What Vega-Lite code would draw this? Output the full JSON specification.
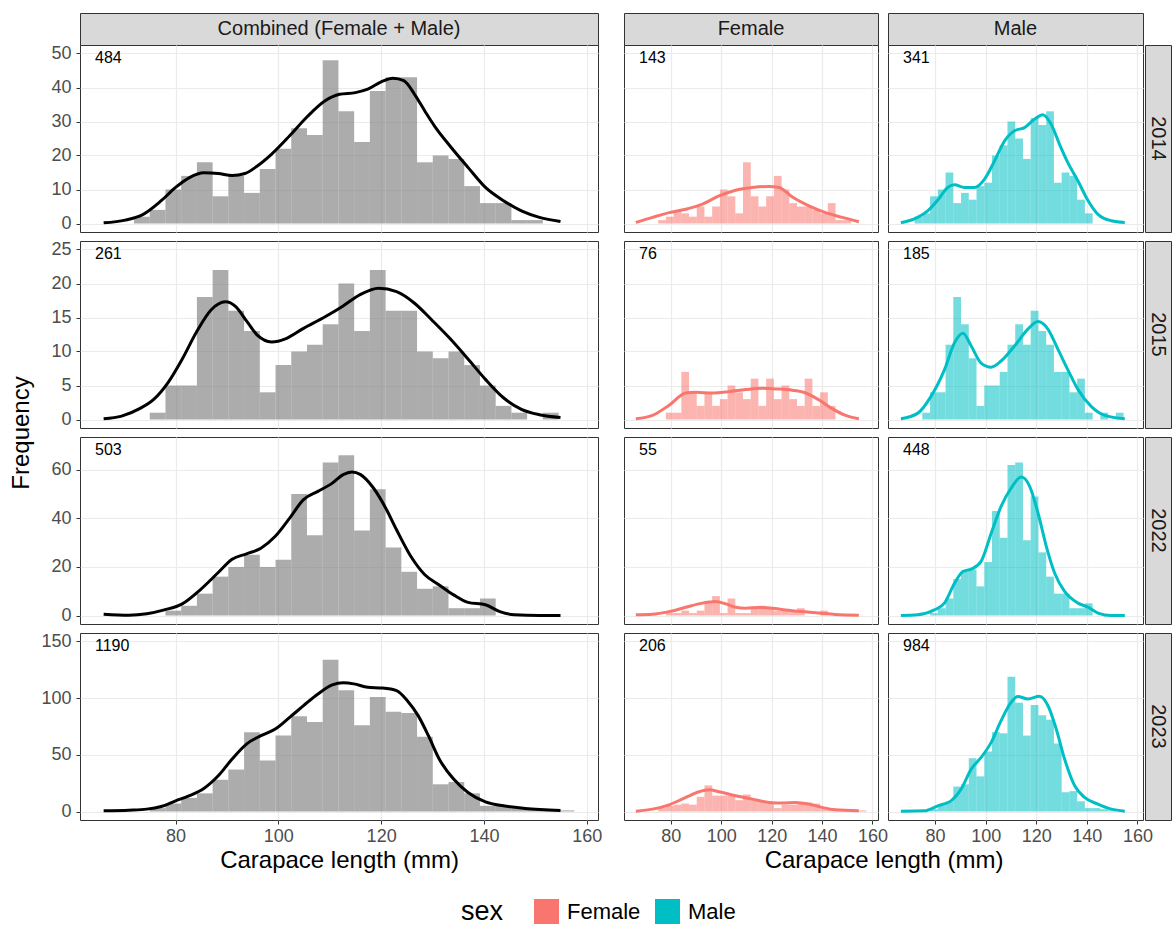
{
"$schema":"https://vega.github.io/schema/vega-lite/v6.json",
"padding":{"left":8,"top":12,"right":0,"bottom":0},
"background":"white",
"config":{
 "font":"Liberation Sans",
 "view":{"stroke":"#333333","strokeWidth":1},
 "axis":{"grid":true,"domain":false,"gridColor":"#ebebeb","gridWidth":1.2,"tickColor":"#333333","tickSize":4,"tickWidth":1,"labelColor":"#4d4d4d","labelFontSize":18,"labelPadding":3,"labelFlush":false,"labelOverlap":false,"titleFontSize":24,"titleFontWeight":"normal","titleColor":"#000000","titlePadding":3},
 "axisY":{"labelPadding":5},
 "legend":{"orient":"none","legendX":381,"legendY":886,"direction":"horizontal","titleOrient":"left","titleFontSize":27,"titleFontWeight":"normal","titleColor":"#000000","titlePadding":30,"labelFontSize":22,"labelColor":"#000000","symbolType":"square","symbolSize":625,"symbolOpacity":1,"symbolStrokeWidth":0,"columnPadding":14,"labelOffset":8}
},
"datasets":{
"counts":[{"year":2014,"sex":"Combined","n":484},{"year":2014,"sex":"Female","n":143},{"year":2014,"sex":"Male","n":341},{"year":2015,"sex":"Combined","n":261},{"year":2015,"sex":"Female","n":76},{"year":2015,"sex":"Male","n":185},{"year":2022,"sex":"Combined","n":503},{"year":2022,"sex":"Female","n":55},{"year":2022,"sex":"Male","n":448},{"year":2023,"sex":"Combined","n":1190},{"year":2023,"sex":"Female","n":206},{"year":2023,"sex":"Male","n":984}],
"bars":[
{"year":2014,"sex":"Combined","lo":71.91,"hi":74.97,"count":2},{"year":2014,"sex":"Male","lo":71.91,"hi":74.97,"count":2},
{"year":2014,"sex":"Combined","lo":74.97,"hi":78.03,"count":4},{"year":2014,"sex":"Female","lo":74.97,"hi":78.03,"count":1},{"year":2014,"sex":"Male","lo":74.97,"hi":78.03,"count":3},
{"year":2014,"sex":"Combined","lo":78.03,"hi":81.09,"count":10},{"year":2014,"sex":"Female","lo":78.03,"hi":81.09,"count":2},{"year":2014,"sex":"Male","lo":78.03,"hi":81.09,"count":8},
{"year":2014,"sex":"Combined","lo":81.09,"hi":84.15,"count":14},{"year":2014,"sex":"Female","lo":81.09,"hi":84.15,"count":4},{"year":2014,"sex":"Male","lo":81.09,"hi":84.15,"count":10},
{"year":2014,"sex":"Combined","lo":84.15,"hi":87.21,"count":18},{"year":2014,"sex":"Female","lo":84.15,"hi":87.21,"count":3},{"year":2014,"sex":"Male","lo":84.15,"hi":87.21,"count":15},
{"year":2014,"sex":"Combined","lo":87.21,"hi":90.27,"count":8},{"year":2014,"sex":"Female","lo":87.21,"hi":90.27,"count":2},{"year":2014,"sex":"Male","lo":87.21,"hi":90.27,"count":6},
{"year":2014,"sex":"Combined","lo":90.27,"hi":93.33,"count":14},{"year":2014,"sex":"Female","lo":90.27,"hi":93.33,"count":5},{"year":2014,"sex":"Male","lo":90.27,"hi":93.33,"count":9},
{"year":2014,"sex":"Combined","lo":93.33,"hi":96.39,"count":9},{"year":2014,"sex":"Female","lo":93.33,"hi":96.39,"count":2},{"year":2014,"sex":"Male","lo":93.33,"hi":96.39,"count":7},
{"year":2014,"sex":"Combined","lo":96.39,"hi":99.45,"count":16},{"year":2014,"sex":"Female","lo":96.39,"hi":99.45,"count":5},{"year":2014,"sex":"Male","lo":96.39,"hi":99.45,"count":11},
{"year":2014,"sex":"Combined","lo":99.45,"hi":102.51,"count":22},{"year":2014,"sex":"Female","lo":99.45,"hi":102.51,"count":10},{"year":2014,"sex":"Male","lo":99.45,"hi":102.51,"count":12},
{"year":2014,"sex":"Combined","lo":102.51,"hi":105.57,"count":28},{"year":2014,"sex":"Female","lo":102.51,"hi":105.57,"count":8},{"year":2014,"sex":"Male","lo":102.51,"hi":105.57,"count":20},
{"year":2014,"sex":"Combined","lo":105.57,"hi":108.63,"count":26},{"year":2014,"sex":"Female","lo":105.57,"hi":108.63,"count":3},{"year":2014,"sex":"Male","lo":105.57,"hi":108.63,"count":23},
{"year":2014,"sex":"Combined","lo":108.63,"hi":111.69,"count":48},{"year":2014,"sex":"Female","lo":108.63,"hi":111.69,"count":18},{"year":2014,"sex":"Male","lo":108.63,"hi":111.69,"count":30},
{"year":2014,"sex":"Combined","lo":111.69,"hi":114.75,"count":33},{"year":2014,"sex":"Female","lo":111.69,"hi":114.75,"count":8},{"year":2014,"sex":"Male","lo":111.69,"hi":114.75,"count":25},
{"year":2014,"sex":"Combined","lo":114.75,"hi":117.81,"count":24},{"year":2014,"sex":"Female","lo":114.75,"hi":117.81,"count":5},{"year":2014,"sex":"Male","lo":114.75,"hi":117.81,"count":19},
{"year":2014,"sex":"Combined","lo":117.81,"hi":120.87,"count":39},{"year":2014,"sex":"Female","lo":117.81,"hi":120.87,"count":8},{"year":2014,"sex":"Male","lo":117.81,"hi":120.87,"count":31},
{"year":2014,"sex":"Combined","lo":120.87,"hi":123.93,"count":43},{"year":2014,"sex":"Female","lo":120.87,"hi":123.93,"count":14},{"year":2014,"sex":"Male","lo":120.87,"hi":123.93,"count":29},
{"year":2014,"sex":"Combined","lo":123.93,"hi":126.99,"count":43},{"year":2014,"sex":"Female","lo":123.93,"hi":126.99,"count":10},{"year":2014,"sex":"Male","lo":123.93,"hi":126.99,"count":33},
{"year":2014,"sex":"Combined","lo":126.99,"hi":130.05,"count":18},{"year":2014,"sex":"Female","lo":126.99,"hi":130.05,"count":6},{"year":2014,"sex":"Male","lo":126.99,"hi":130.05,"count":12},
{"year":2014,"sex":"Combined","lo":130.05,"hi":133.11,"count":20},{"year":2014,"sex":"Female","lo":130.05,"hi":133.11,"count":5},{"year":2014,"sex":"Male","lo":130.05,"hi":133.11,"count":15},
{"year":2014,"sex":"Combined","lo":133.11,"hi":136.17,"count":19},{"year":2014,"sex":"Female","lo":133.11,"hi":136.17,"count":5},{"year":2014,"sex":"Male","lo":133.11,"hi":136.17,"count":14},
{"year":2014,"sex":"Combined","lo":136.17,"hi":139.23,"count":11},{"year":2014,"sex":"Female","lo":136.17,"hi":139.23,"count":4},{"year":2014,"sex":"Male","lo":136.17,"hi":139.23,"count":7},
{"year":2014,"sex":"Combined","lo":139.23,"hi":142.29,"count":6},{"year":2014,"sex":"Female","lo":139.23,"hi":142.29,"count":3},{"year":2014,"sex":"Male","lo":139.23,"hi":142.29,"count":3},
{"year":2014,"sex":"Combined","lo":142.29,"hi":145.35,"count":6},{"year":2014,"sex":"Female","lo":142.29,"hi":145.35,"count":6},
{"year":2014,"sex":"Combined","lo":145.35,"hi":148.41,"count":1},{"year":2014,"sex":"Female","lo":145.35,"hi":148.41,"count":1},
{"year":2014,"sex":"Combined","lo":148.41,"hi":151.47,"count":1},{"year":2014,"sex":"Female","lo":148.41,"hi":151.47,"count":1},

{"year":2015,"sex":"Combined","lo":74.97,"hi":78.03,"count":1},{"year":2015,"sex":"Male","lo":74.97,"hi":78.03,"count":1},
{"year":2015,"sex":"Combined","lo":78.03,"hi":81.09,"count":5},{"year":2015,"sex":"Female","lo":78.03,"hi":81.09,"count":1},{"year":2015,"sex":"Male","lo":78.03,"hi":81.09,"count":4},
{"year":2015,"sex":"Combined","lo":81.09,"hi":84.15,"count":5},{"year":2015,"sex":"Female","lo":81.09,"hi":84.15,"count":1},{"year":2015,"sex":"Male","lo":81.09,"hi":84.15,"count":4},
{"year":2015,"sex":"Combined","lo":84.15,"hi":87.21,"count":18},{"year":2015,"sex":"Female","lo":84.15,"hi":87.21,"count":7},{"year":2015,"sex":"Male","lo":84.15,"hi":87.21,"count":11},
{"year":2015,"sex":"Combined","lo":87.21,"hi":90.27,"count":22},{"year":2015,"sex":"Female","lo":87.21,"hi":90.27,"count":4},{"year":2015,"sex":"Male","lo":87.21,"hi":90.27,"count":18},
{"year":2015,"sex":"Combined","lo":90.27,"hi":93.33,"count":16},{"year":2015,"sex":"Female","lo":90.27,"hi":93.33,"count":2},{"year":2015,"sex":"Male","lo":90.27,"hi":93.33,"count":14},
{"year":2015,"sex":"Combined","lo":93.33,"hi":96.39,"count":13},{"year":2015,"sex":"Female","lo":93.33,"hi":96.39,"count":4},{"year":2015,"sex":"Male","lo":93.33,"hi":96.39,"count":9},
{"year":2015,"sex":"Combined","lo":96.39,"hi":99.45,"count":4},{"year":2015,"sex":"Female","lo":96.39,"hi":99.45,"count":2},{"year":2015,"sex":"Male","lo":96.39,"hi":99.45,"count":2},
{"year":2015,"sex":"Combined","lo":99.45,"hi":102.51,"count":8},{"year":2015,"sex":"Female","lo":99.45,"hi":102.51,"count":3},{"year":2015,"sex":"Male","lo":99.45,"hi":102.51,"count":5},
{"year":2015,"sex":"Combined","lo":102.51,"hi":105.57,"count":10},{"year":2015,"sex":"Female","lo":102.51,"hi":105.57,"count":5},{"year":2015,"sex":"Male","lo":102.51,"hi":105.57,"count":5},
{"year":2015,"sex":"Combined","lo":105.57,"hi":108.63,"count":11},{"year":2015,"sex":"Female","lo":105.57,"hi":108.63,"count":4},{"year":2015,"sex":"Male","lo":105.57,"hi":108.63,"count":7},
{"year":2015,"sex":"Combined","lo":108.63,"hi":111.69,"count":14},{"year":2015,"sex":"Female","lo":108.63,"hi":111.69,"count":3},{"year":2015,"sex":"Male","lo":108.63,"hi":111.69,"count":11},
{"year":2015,"sex":"Combined","lo":111.69,"hi":114.75,"count":20},{"year":2015,"sex":"Female","lo":111.69,"hi":114.75,"count":6},{"year":2015,"sex":"Male","lo":111.69,"hi":114.75,"count":14},
{"year":2015,"sex":"Combined","lo":114.75,"hi":117.81,"count":13},{"year":2015,"sex":"Female","lo":114.75,"hi":117.81,"count":2},{"year":2015,"sex":"Male","lo":114.75,"hi":117.81,"count":11},
{"year":2015,"sex":"Combined","lo":117.81,"hi":120.87,"count":22},{"year":2015,"sex":"Female","lo":117.81,"hi":120.87,"count":6},{"year":2015,"sex":"Male","lo":117.81,"hi":120.87,"count":16},
{"year":2015,"sex":"Combined","lo":120.87,"hi":123.93,"count":16},{"year":2015,"sex":"Female","lo":120.87,"hi":123.93,"count":3},{"year":2015,"sex":"Male","lo":120.87,"hi":123.93,"count":13},
{"year":2015,"sex":"Combined","lo":123.93,"hi":126.99,"count":16},{"year":2015,"sex":"Female","lo":123.93,"hi":126.99,"count":5},{"year":2015,"sex":"Male","lo":123.93,"hi":126.99,"count":11},
{"year":2015,"sex":"Combined","lo":126.99,"hi":130.05,"count":10},{"year":2015,"sex":"Female","lo":126.99,"hi":130.05,"count":3},{"year":2015,"sex":"Male","lo":126.99,"hi":130.05,"count":7},
{"year":2015,"sex":"Combined","lo":130.05,"hi":133.11,"count":9},{"year":2015,"sex":"Female","lo":130.05,"hi":133.11,"count":2},{"year":2015,"sex":"Male","lo":130.05,"hi":133.11,"count":7},
{"year":2015,"sex":"Combined","lo":133.11,"hi":136.17,"count":10},{"year":2015,"sex":"Female","lo":133.11,"hi":136.17,"count":6},{"year":2015,"sex":"Male","lo":133.11,"hi":136.17,"count":4},
{"year":2015,"sex":"Combined","lo":136.17,"hi":139.23,"count":8},{"year":2015,"sex":"Female","lo":136.17,"hi":139.23,"count":2},{"year":2015,"sex":"Male","lo":136.17,"hi":139.23,"count":6},
{"year":2015,"sex":"Combined","lo":139.23,"hi":142.29,"count":5},{"year":2015,"sex":"Female","lo":139.23,"hi":142.29,"count":4},{"year":2015,"sex":"Male","lo":139.23,"hi":142.29,"count":1},
{"year":2015,"sex":"Combined","lo":142.29,"hi":145.35,"count":2},{"year":2015,"sex":"Female","lo":142.29,"hi":145.35,"count":2},
{"year":2015,"sex":"Combined","lo":145.35,"hi":148.41,"count":1},{"year":2015,"sex":"Male","lo":145.35,"hi":148.41,"count":1},
{"year":2015,"sex":"Combined","lo":151.47,"hi":154.53,"count":1},{"year":2015,"sex":"Male","lo":151.47,"hi":154.53,"count":1},

{"year":2022,"sex":"Combined","lo":78.03,"hi":81.09,"count":2},{"year":2022,"sex":"Female","lo":78.03,"hi":81.09,"count":1},{"year":2022,"sex":"Male","lo":78.03,"hi":81.09,"count":1},
{"year":2022,"sex":"Combined","lo":81.09,"hi":84.15,"count":4},{"year":2022,"sex":"Female","lo":81.09,"hi":84.15,"count":1},{"year":2022,"sex":"Male","lo":81.09,"hi":84.15,"count":3},
{"year":2022,"sex":"Combined","lo":84.15,"hi":87.21,"count":9},{"year":2022,"sex":"Female","lo":84.15,"hi":87.21,"count":2},{"year":2022,"sex":"Male","lo":84.15,"hi":87.21,"count":7},
{"year":2022,"sex":"Combined","lo":87.21,"hi":90.27,"count":16},{"year":2022,"sex":"Female","lo":87.21,"hi":90.27,"count":1},{"year":2022,"sex":"Male","lo":87.21,"hi":90.27,"count":15},
{"year":2022,"sex":"Combined","lo":90.27,"hi":93.33,"count":20},{"year":2022,"sex":"Female","lo":90.27,"hi":93.33,"count":2},{"year":2022,"sex":"Male","lo":90.27,"hi":93.33,"count":18},
{"year":2022,"sex":"Combined","lo":93.33,"hi":96.39,"count":25},{"year":2022,"sex":"Female","lo":93.33,"hi":96.39,"count":6},{"year":2022,"sex":"Male","lo":93.33,"hi":96.39,"count":19},
{"year":2022,"sex":"Combined","lo":96.39,"hi":99.45,"count":20},{"year":2022,"sex":"Female","lo":96.39,"hi":99.45,"count":8},{"year":2022,"sex":"Male","lo":96.39,"hi":99.45,"count":12},
{"year":2022,"sex":"Combined","lo":99.45,"hi":102.51,"count":23},{"year":2022,"sex":"Female","lo":99.45,"hi":102.51,"count":1},{"year":2022,"sex":"Male","lo":99.45,"hi":102.51,"count":22},
{"year":2022,"sex":"Combined","lo":102.51,"hi":105.57,"count":50},{"year":2022,"sex":"Female","lo":102.51,"hi":105.57,"count":7},{"year":2022,"sex":"Male","lo":102.51,"hi":105.57,"count":43},
{"year":2022,"sex":"Combined","lo":105.57,"hi":108.63,"count":33},{"year":2022,"sex":"Female","lo":105.57,"hi":108.63,"count":1},{"year":2022,"sex":"Male","lo":105.57,"hi":108.63,"count":32},
{"year":2022,"sex":"Combined","lo":108.63,"hi":111.69,"count":63},{"year":2022,"sex":"Female","lo":108.63,"hi":111.69,"count":1},{"year":2022,"sex":"Male","lo":108.63,"hi":111.69,"count":62},
{"year":2022,"sex":"Combined","lo":111.69,"hi":114.75,"count":66},{"year":2022,"sex":"Female","lo":111.69,"hi":114.75,"count":3},{"year":2022,"sex":"Male","lo":111.69,"hi":114.75,"count":63},
{"year":2022,"sex":"Combined","lo":114.75,"hi":117.81,"count":35},{"year":2022,"sex":"Female","lo":114.75,"hi":117.81,"count":4},{"year":2022,"sex":"Male","lo":114.75,"hi":117.81,"count":31},
{"year":2022,"sex":"Combined","lo":117.81,"hi":120.87,"count":52},{"year":2022,"sex":"Female","lo":117.81,"hi":120.87,"count":3},{"year":2022,"sex":"Male","lo":117.81,"hi":120.87,"count":49},
{"year":2022,"sex":"Combined","lo":120.87,"hi":123.93,"count":28},{"year":2022,"sex":"Female","lo":120.87,"hi":123.93,"count":2},{"year":2022,"sex":"Male","lo":120.87,"hi":123.93,"count":26},
{"year":2022,"sex":"Combined","lo":123.93,"hi":126.99,"count":18},{"year":2022,"sex":"Female","lo":123.93,"hi":126.99,"count":2},{"year":2022,"sex":"Male","lo":123.93,"hi":126.99,"count":16},
{"year":2022,"sex":"Combined","lo":126.99,"hi":130.05,"count":11},{"year":2022,"sex":"Female","lo":126.99,"hi":130.05,"count":2},{"year":2022,"sex":"Male","lo":126.99,"hi":130.05,"count":9},
{"year":2022,"sex":"Combined","lo":130.05,"hi":133.11,"count":12},{"year":2022,"sex":"Female","lo":130.05,"hi":133.11,"count":3},{"year":2022,"sex":"Male","lo":130.05,"hi":133.11,"count":9},
{"year":2022,"sex":"Combined","lo":133.11,"hi":136.17,"count":3},{"year":2022,"sex":"Male","lo":133.11,"hi":136.17,"count":3},
{"year":2022,"sex":"Combined","lo":136.17,"hi":139.23,"count":3},{"year":2022,"sex":"Male","lo":136.17,"hi":139.23,"count":3},
{"year":2022,"sex":"Combined","lo":139.23,"hi":142.29,"count":7},{"year":2022,"sex":"Female","lo":139.23,"hi":142.29,"count":2},{"year":2022,"sex":"Male","lo":139.23,"hi":142.29,"count":5},

{"year":2023,"sex":"Combined","lo":74.97,"hi":78.03,"count":3},{"year":2023,"sex":"Female","lo":74.97,"hi":78.03,"count":3},
{"year":2023,"sex":"Combined","lo":78.03,"hi":81.09,"count":7},{"year":2023,"sex":"Female","lo":78.03,"hi":81.09,"count":5},{"year":2023,"sex":"Male","lo":78.03,"hi":81.09,"count":2},
{"year":2023,"sex":"Combined","lo":81.09,"hi":84.15,"count":12},{"year":2023,"sex":"Female","lo":81.09,"hi":84.15,"count":6},{"year":2023,"sex":"Male","lo":81.09,"hi":84.15,"count":6},
{"year":2023,"sex":"Combined","lo":84.15,"hi":87.21,"count":16},{"year":2023,"sex":"Female","lo":84.15,"hi":87.21,"count":7},{"year":2023,"sex":"Male","lo":84.15,"hi":87.21,"count":9},
{"year":2023,"sex":"Combined","lo":87.21,"hi":90.27,"count":28},{"year":2023,"sex":"Female","lo":87.21,"hi":90.27,"count":6},{"year":2023,"sex":"Male","lo":87.21,"hi":90.27,"count":22},
{"year":2023,"sex":"Combined","lo":90.27,"hi":93.33,"count":37},{"year":2023,"sex":"Female","lo":90.27,"hi":93.33,"count":13},{"year":2023,"sex":"Male","lo":90.27,"hi":93.33,"count":24},
{"year":2023,"sex":"Combined","lo":93.33,"hi":96.39,"count":70},{"year":2023,"sex":"Female","lo":93.33,"hi":96.39,"count":23},{"year":2023,"sex":"Male","lo":93.33,"hi":96.39,"count":47},
{"year":2023,"sex":"Combined","lo":96.39,"hi":99.45,"count":45},{"year":2023,"sex":"Female","lo":96.39,"hi":99.45,"count":14},{"year":2023,"sex":"Male","lo":96.39,"hi":99.45,"count":31},
{"year":2023,"sex":"Combined","lo":99.45,"hi":102.51,"count":67},{"year":2023,"sex":"Female","lo":99.45,"hi":102.51,"count":14},{"year":2023,"sex":"Male","lo":99.45,"hi":102.51,"count":53},
{"year":2023,"sex":"Combined","lo":102.51,"hi":105.57,"count":84},{"year":2023,"sex":"Female","lo":102.51,"hi":105.57,"count":14},{"year":2023,"sex":"Male","lo":102.51,"hi":105.57,"count":70},
{"year":2023,"sex":"Combined","lo":105.57,"hi":108.63,"count":79},{"year":2023,"sex":"Female","lo":105.57,"hi":108.63,"count":10},{"year":2023,"sex":"Male","lo":105.57,"hi":108.63,"count":69},
{"year":2023,"sex":"Combined","lo":108.63,"hi":111.69,"count":134},{"year":2023,"sex":"Female","lo":108.63,"hi":111.69,"count":15},{"year":2023,"sex":"Male","lo":108.63,"hi":111.69,"count":119},
{"year":2023,"sex":"Combined","lo":111.69,"hi":114.75,"count":107},{"year":2023,"sex":"Female","lo":111.69,"hi":114.75,"count":11},{"year":2023,"sex":"Male","lo":111.69,"hi":114.75,"count":96},
{"year":2023,"sex":"Combined","lo":114.75,"hi":117.81,"count":76},{"year":2023,"sex":"Female","lo":114.75,"hi":117.81,"count":9},{"year":2023,"sex":"Male","lo":114.75,"hi":117.81,"count":67},
{"year":2023,"sex":"Combined","lo":117.81,"hi":120.87,"count":101},{"year":2023,"sex":"Female","lo":117.81,"hi":120.87,"count":7},{"year":2023,"sex":"Male","lo":117.81,"hi":120.87,"count":94},
{"year":2023,"sex":"Combined","lo":120.87,"hi":123.93,"count":88},{"year":2023,"sex":"Female","lo":120.87,"hi":123.93,"count":3},{"year":2023,"sex":"Male","lo":120.87,"hi":123.93,"count":85},
{"year":2023,"sex":"Combined","lo":123.93,"hi":126.99,"count":87},{"year":2023,"sex":"Female","lo":123.93,"hi":126.99,"count":6},{"year":2023,"sex":"Male","lo":123.93,"hi":126.99,"count":81},
{"year":2023,"sex":"Combined","lo":126.99,"hi":130.05,"count":66},{"year":2023,"sex":"Female","lo":126.99,"hi":130.05,"count":6},{"year":2023,"sex":"Male","lo":126.99,"hi":130.05,"count":60},
{"year":2023,"sex":"Combined","lo":130.05,"hi":133.11,"count":24},{"year":2023,"sex":"Female","lo":130.05,"hi":133.11,"count":7},{"year":2023,"sex":"Male","lo":130.05,"hi":133.11,"count":17},
{"year":2023,"sex":"Combined","lo":133.11,"hi":136.17,"count":26},{"year":2023,"sex":"Female","lo":133.11,"hi":136.17,"count":8},{"year":2023,"sex":"Male","lo":133.11,"hi":136.17,"count":18},
{"year":2023,"sex":"Combined","lo":136.17,"hi":139.23,"count":16},{"year":2023,"sex":"Female","lo":136.17,"hi":139.23,"count":7},{"year":2023,"sex":"Male","lo":136.17,"hi":139.23,"count":9},
{"year":2023,"sex":"Combined","lo":139.23,"hi":142.29,"count":5},{"year":2023,"sex":"Female","lo":139.23,"hi":142.29,"count":2},{"year":2023,"sex":"Male","lo":139.23,"hi":142.29,"count":3},
{"year":2023,"sex":"Combined","lo":142.29,"hi":145.35,"count":5},{"year":2023,"sex":"Female","lo":142.29,"hi":145.35,"count":2},{"year":2023,"sex":"Male","lo":142.29,"hi":145.35,"count":3},
{"year":2023,"sex":"Combined","lo":145.35,"hi":148.41,"count":3},{"year":2023,"sex":"Female","lo":145.35,"hi":148.41,"count":1},{"year":2023,"sex":"Male","lo":145.35,"hi":148.41,"count":2},
{"year":2023,"sex":"Combined","lo":148.41,"hi":151.47,"count":2},{"year":2023,"sex":"Female","lo":148.41,"hi":151.47,"count":1},{"year":2023,"sex":"Male","lo":148.41,"hi":151.47,"count":1},
{"year":2023,"sex":"Combined","lo":151.47,"hi":154.53,"count":1},{"year":2023,"sex":"Female","lo":151.47,"hi":154.53,"count":1},
{"year":2023,"sex":"Combined","lo":154.53,"hi":157.59,"count":1},{"year":2023,"sex":"Female","lo":154.53,"hi":157.59,"count":1}
],
"dens":[
{"year":2014,"sex":"Combined","x":66.0,"d":0.2},{"year":2014,"sex":"Combined","x":70.2,"d":1.0},{"year":2014,"sex":"Combined","x":73.7,"d":2.7},{"year":2014,"sex":"Combined","x":77.2,"d":6.7},{"year":2014,"sex":"Combined","x":80.0,"d":10.6},{"year":2014,"sex":"Combined","x":82.7,"d":13.5},{"year":2014,"sex":"Combined","x":85.5,"d":14.9},{"year":2014,"sex":"Combined","x":88.3,"d":14.7},{"year":2014,"sex":"Combined","x":91.0,"d":14.1},{"year":2014,"sex":"Combined","x":93.5,"d":14.7},{"year":2014,"sex":"Combined","x":95.9,"d":16.9},{"year":2014,"sex":"Combined","x":98.7,"d":20.4},{"year":2014,"sex":"Combined","x":102.2,"d":25.8},{"year":2014,"sex":"Combined","x":105.6,"d":31.4},{"year":2014,"sex":"Combined","x":109.1,"d":36.1},{"year":2014,"sex":"Combined","x":111.9,"d":38.0},{"year":2014,"sex":"Combined","x":115.0,"d":38.5},{"year":2014,"sex":"Combined","x":117.4,"d":39.5},{"year":2014,"sex":"Combined","x":120.2,"d":41.8},{"year":2014,"sex":"Combined","x":122.3,"d":42.7},{"year":2014,"sex":"Combined","x":124.4,"d":42.0},{"year":2014,"sex":"Combined","x":126.5,"d":38.0},{"year":2014,"sex":"Combined","x":128.5,"d":33.1},{"year":2014,"sex":"Combined","x":130.6,"d":28.2},{"year":2014,"sex":"Combined","x":133.4,"d":22.8},{"year":2014,"sex":"Combined","x":136.9,"d":16.5},{"year":2014,"sex":"Combined","x":140.3,"d":10.6},{"year":2014,"sex":"Combined","x":143.8,"d":6.7},{"year":2014,"sex":"Combined","x":147.3,"d":3.7},{"year":2014,"sex":"Combined","x":150.8,"d":1.8},{"year":2014,"sex":"Combined","x":154.9,"d":0.6},
{"year":2015,"sex":"Combined","x":66.0,"d":0.1},{"year":2015,"sex":"Combined","x":69.5,"d":0.5},{"year":2015,"sex":"Combined","x":73.0,"d":1.6},{"year":2015,"sex":"Combined","x":75.8,"d":3.0},{"year":2015,"sex":"Combined","x":78.5,"d":5.4},{"year":2015,"sex":"Combined","x":81.3,"d":8.9},{"year":2015,"sex":"Combined","x":84.1,"d":12.9},{"year":2015,"sex":"Combined","x":86.9,"d":16.1},{"year":2015,"sex":"Combined","x":89.7,"d":17.3},{"year":2015,"sex":"Combined","x":91.7,"d":16.6},{"year":2015,"sex":"Combined","x":93.8,"d":14.5},{"year":2015,"sex":"Combined","x":95.9,"d":12.4},{"year":2015,"sex":"Combined","x":98.7,"d":11.4},{"year":2015,"sex":"Combined","x":101.5,"d":11.9},{"year":2015,"sex":"Combined","x":104.9,"d":13.4},{"year":2015,"sex":"Combined","x":109.1,"d":15.1},{"year":2015,"sex":"Combined","x":112.6,"d":16.7},{"year":2015,"sex":"Combined","x":116.0,"d":18.4},{"year":2015,"sex":"Combined","x":119.5,"d":19.3},{"year":2015,"sex":"Combined","x":123.0,"d":18.8},{"year":2015,"sex":"Combined","x":126.5,"d":17.1},{"year":2015,"sex":"Combined","x":129.9,"d":14.6},{"year":2015,"sex":"Combined","x":133.4,"d":11.9},{"year":2015,"sex":"Combined","x":136.9,"d":8.9},{"year":2015,"sex":"Combined","x":140.3,"d":5.9},{"year":2015,"sex":"Combined","x":143.8,"d":3.2},{"year":2015,"sex":"Combined","x":147.3,"d":1.5},{"year":2015,"sex":"Combined","x":150.8,"d":0.7},{"year":2015,"sex":"Combined","x":154.9,"d":0.3},
{"year":2022,"sex":"Combined","x":66.0,"d":0.5},{"year":2022,"sex":"Combined","x":70.9,"d":0.1},{"year":2022,"sex":"Combined","x":74.4,"d":0.7},{"year":2022,"sex":"Combined","x":77.8,"d":2.3},{"year":2022,"sex":"Combined","x":81.3,"d":4.8},{"year":2022,"sex":"Combined","x":84.8,"d":10.6},{"year":2022,"sex":"Combined","x":88.3,"d":17.7},{"year":2022,"sex":"Combined","x":91.0,"d":23.2},{"year":2022,"sex":"Combined","x":93.8,"d":25.4},{"year":2022,"sex":"Combined","x":96.6,"d":27.7},{"year":2022,"sex":"Combined","x":99.4,"d":32.6},{"year":2022,"sex":"Combined","x":102.2,"d":40.1},{"year":2022,"sex":"Combined","x":104.9,"d":47.7},{"year":2022,"sex":"Combined","x":107.7,"d":51.1},{"year":2022,"sex":"Combined","x":110.5,"d":54.5},{"year":2022,"sex":"Combined","x":112.6,"d":58.0},{"year":2022,"sex":"Combined","x":114.3,"d":59.1},{"year":2022,"sex":"Combined","x":116.0,"d":58.0},{"year":2022,"sex":"Combined","x":118.5,"d":52.5},{"year":2022,"sex":"Combined","x":120.9,"d":44.2},{"year":2022,"sex":"Combined","x":123.0,"d":35.3},{"year":2022,"sex":"Combined","x":125.8,"d":24.3},{"year":2022,"sex":"Combined","x":128.5,"d":16.8},{"year":2022,"sex":"Combined","x":131.3,"d":12.6},{"year":2022,"sex":"Combined","x":134.1,"d":8.5},{"year":2022,"sex":"Combined","x":136.9,"d":5.4},{"year":2022,"sex":"Combined","x":140.3,"d":4.4},{"year":2022,"sex":"Combined","x":143.1,"d":1.6},{"year":2022,"sex":"Combined","x":145.9,"d":0.3},{"year":2022,"sex":"Combined","x":150.8,"d":0.0},{"year":2022,"sex":"Combined","x":154.9,"d":0.0},
{"year":2023,"sex":"Combined","x":66.0,"d":0.6},{"year":2023,"sex":"Combined","x":70.9,"d":1.2},{"year":2023,"sex":"Combined","x":74.4,"d":2.1},{"year":2023,"sex":"Combined","x":77.2,"d":4.4},{"year":2023,"sex":"Combined","x":80.0,"d":9.4},{"year":2023,"sex":"Combined","x":82.7,"d":13.9},{"year":2023,"sex":"Combined","x":85.5,"d":20.3},{"year":2023,"sex":"Combined","x":88.3,"d":31.5},{"year":2023,"sex":"Combined","x":91.0,"d":46.3},{"year":2023,"sex":"Combined","x":93.8,"d":59.5},{"year":2023,"sex":"Combined","x":96.6,"d":66.9},{"year":2023,"sex":"Combined","x":99.4,"d":72.8},{"year":2023,"sex":"Combined","x":102.2,"d":83.1},{"year":2023,"sex":"Combined","x":104.9,"d":93.4},{"year":2023,"sex":"Combined","x":107.7,"d":103.7},{"year":2023,"sex":"Combined","x":110.5,"d":111.7},{"year":2023,"sex":"Combined","x":112.6,"d":113.5},{"year":2023,"sex":"Combined","x":114.7,"d":112.6},{"year":2023,"sex":"Combined","x":117.4,"d":109.6},{"year":2023,"sex":"Combined","x":120.2,"d":109.0},{"year":2023,"sex":"Combined","x":123.0,"d":106.7},{"year":2023,"sex":"Combined","x":125.1,"d":97.8},{"year":2023,"sex":"Combined","x":127.2,"d":84.6},{"year":2023,"sex":"Combined","x":129.2,"d":66.9},{"year":2023,"sex":"Combined","x":131.3,"d":46.3},{"year":2023,"sex":"Combined","x":134.1,"d":28.6},{"year":2023,"sex":"Combined","x":136.9,"d":16.8},{"year":2023,"sex":"Combined","x":140.3,"d":8.5},{"year":2023,"sex":"Combined","x":143.8,"d":5.0},{"year":2023,"sex":"Combined","x":148.0,"d":2.7},{"year":2023,"sex":"Combined","x":154.9,"d":0.9},
{"year":2014,"sex":"Female","x":66.1,"d":0.3},{"year":2014,"sex":"Female","x":72.7,"d":1.8},{"year":2014,"sex":"Female","x":79.3,"d":3.2},{"year":2014,"sex":"Female","x":85.9,"d":4.2},{"year":2014,"sex":"Female","x":92.5,"d":5.7},{"year":2014,"sex":"Female","x":99.1,"d":8.1},{"year":2014,"sex":"Female","x":105.7,"d":9.8},{"year":2014,"sex":"Female","x":112.3,"d":10.6},{"year":2014,"sex":"Female","x":118.9,"d":10.9},{"year":2014,"sex":"Female","x":122.9,"d":10.6},{"year":2014,"sex":"Female","x":128.2,"d":7.8},{"year":2014,"sex":"Female","x":134.8,"d":5.2},{"year":2014,"sex":"Female","x":141.4,"d":3.2},{"year":2014,"sex":"Female","x":148.0,"d":1.8},{"year":2014,"sex":"Female","x":154.6,"d":0.5},
{"year":2014,"sex":"Male","x":66.5,"d":0.2},{"year":2014,"sex":"Male","x":73.1,"d":1.8},{"year":2014,"sex":"Male","x":77.1,"d":3.7},{"year":2014,"sex":"Male","x":81.1,"d":6.9},{"year":2014,"sex":"Male","x":85.0,"d":10.6},{"year":2014,"sex":"Male","x":87.7,"d":11.4},{"year":2014,"sex":"Male","x":91.6,"d":10.6},{"year":2014,"sex":"Male","x":95.6,"d":10.6},{"year":2014,"sex":"Male","x":99.5,"d":13.0},{"year":2014,"sex":"Male","x":103.5,"d":18.4},{"year":2014,"sex":"Male","x":107.5,"d":24.3},{"year":2014,"sex":"Male","x":111.4,"d":27.3},{"year":2014,"sex":"Male","x":115.4,"d":28.2},{"year":2014,"sex":"Male","x":119.3,"d":30.7},{"year":2014,"sex":"Male","x":122.6,"d":32.0},{"year":2014,"sex":"Male","x":125.9,"d":29.2},{"year":2014,"sex":"Male","x":129.2,"d":23.3},{"year":2014,"sex":"Male","x":132.5,"d":17.9},{"year":2014,"sex":"Male","x":136.5,"d":12.5},{"year":2014,"sex":"Male","x":140.5,"d":6.7},{"year":2014,"sex":"Male","x":144.4,"d":2.7},{"year":2014,"sex":"Male","x":149.7,"d":0.8},{"year":2014,"sex":"Male","x":155.0,"d":0.3},
{"year":2015,"sex":"Female","x":66.1,"d":0.1},{"year":2015,"sex":"Female","x":72.7,"d":0.6},{"year":2015,"sex":"Female","x":79.3,"d":2.1},{"year":2015,"sex":"Female","x":85.9,"d":3.9},{"year":2015,"sex":"Female","x":89.9,"d":4.0},{"year":2015,"sex":"Female","x":96.5,"d":3.9},{"year":2015,"sex":"Female","x":103.1,"d":4.1},{"year":2015,"sex":"Female","x":109.7,"d":4.4},{"year":2015,"sex":"Female","x":116.3,"d":4.6},{"year":2015,"sex":"Female","x":121.6,"d":4.5},{"year":2015,"sex":"Female","x":128.2,"d":4.3},{"year":2015,"sex":"Female","x":133.5,"d":3.9},{"year":2015,"sex":"Female","x":138.7,"d":2.9},{"year":2015,"sex":"Female","x":144.0,"d":1.6},{"year":2015,"sex":"Female","x":149.3,"d":0.6},{"year":2015,"sex":"Female","x":154.6,"d":0.1},
{"year":2015,"sex":"Male","x":66.5,"d":0.1},{"year":2015,"sex":"Male","x":73.1,"d":0.9},{"year":2015,"sex":"Male","x":78.4,"d":3.4},{"year":2015,"sex":"Male","x":83.7,"d":7.3},{"year":2015,"sex":"Male","x":87.7,"d":11.3},{"year":2015,"sex":"Male","x":91.0,"d":12.7},{"year":2015,"sex":"Male","x":94.3,"d":10.8},{"year":2015,"sex":"Male","x":98.2,"d":8.3},{"year":2015,"sex":"Male","x":102.2,"d":7.7},{"year":2015,"sex":"Male","x":106.1,"d":8.6},{"year":2015,"sex":"Male","x":111.4,"d":10.8},{"year":2015,"sex":"Male","x":116.7,"d":13.3},{"year":2015,"sex":"Male","x":120.7,"d":14.4},{"year":2015,"sex":"Male","x":124.6,"d":13.3},{"year":2015,"sex":"Male","x":128.6,"d":10.3},{"year":2015,"sex":"Male","x":132.5,"d":7.3},{"year":2015,"sex":"Male","x":136.5,"d":4.4},{"year":2015,"sex":"Male","x":141.8,"d":1.9},{"year":2015,"sex":"Male","x":147.1,"d":0.6},{"year":2015,"sex":"Male","x":155.0,"d":0.1},
{"year":2022,"sex":"Female","x":66.1,"d":0.3},{"year":2022,"sex":"Female","x":72.7,"d":0.5},{"year":2022,"sex":"Female","x":79.3,"d":1.6},{"year":2022,"sex":"Female","x":85.9,"d":3.4},{"year":2022,"sex":"Female","x":92.5,"d":5.1},{"year":2022,"sex":"Female","x":97.8,"d":5.8},{"year":2022,"sex":"Female","x":101.8,"d":4.8},{"year":2022,"sex":"Female","x":105.7,"d":3.4},{"year":2022,"sex":"Female","x":109.7,"d":3.0},{"year":2022,"sex":"Female","x":115.0,"d":3.3},{"year":2022,"sex":"Female","x":120.3,"d":3.0},{"year":2022,"sex":"Female","x":125.5,"d":2.3},{"year":2022,"sex":"Female","x":132.1,"d":1.6},{"year":2022,"sex":"Female","x":138.7,"d":1.0},{"year":2022,"sex":"Female","x":145.3,"d":0.4},{"year":2022,"sex":"Female","x":154.6,"d":0.1},
{"year":2022,"sex":"Male","x":66.5,"d":0.0},{"year":2022,"sex":"Male","x":73.1,"d":0.3},{"year":2022,"sex":"Male","x":79.7,"d":2.3},{"year":2022,"sex":"Male","x":83.7,"d":5.1},{"year":2022,"sex":"Male","x":87.7,"d":13.3},{"year":2022,"sex":"Male","x":91.0,"d":18.1},{"year":2022,"sex":"Male","x":94.3,"d":19.1},{"year":2022,"sex":"Male","x":98.2,"d":22.3},{"year":2022,"sex":"Male","x":102.2,"d":33.9},{"year":2022,"sex":"Male","x":106.1,"d":44.9},{"year":2022,"sex":"Male","x":110.1,"d":52.5},{"year":2022,"sex":"Male","x":114.1,"d":57.0},{"year":2022,"sex":"Male","x":117.4,"d":53.2},{"year":2022,"sex":"Male","x":120.7,"d":42.2},{"year":2022,"sex":"Male","x":124.0,"d":28.4},{"year":2022,"sex":"Male","x":127.3,"d":17.4},{"year":2022,"sex":"Male","x":131.2,"d":9.9},{"year":2022,"sex":"Male","x":136.5,"d":5.1},{"year":2022,"sex":"Male","x":140.5,"d":3.4},{"year":2022,"sex":"Male","x":144.4,"d":1.0},{"year":2022,"sex":"Male","x":149.7,"d":0.0},{"year":2022,"sex":"Male","x":155.0,"d":0.0},
{"year":2023,"sex":"Female","x":66.1,"d":0.3},{"year":2023,"sex":"Female","x":72.7,"d":2.1},{"year":2023,"sex":"Female","x":79.3,"d":5.9},{"year":2023,"sex":"Female","x":85.9,"d":12.4},{"year":2023,"sex":"Female","x":91.2,"d":17.4},{"year":2023,"sex":"Female","x":95.2,"d":19.2},{"year":2023,"sex":"Female","x":99.1,"d":17.4},{"year":2023,"sex":"Female","x":105.7,"d":13.9},{"year":2023,"sex":"Female","x":112.3,"d":10.9},{"year":2023,"sex":"Female","x":118.9,"d":8.0},{"year":2023,"sex":"Female","x":124.2,"d":7.4},{"year":2023,"sex":"Female","x":129.5,"d":8.0},{"year":2023,"sex":"Female","x":134.8,"d":6.5},{"year":2023,"sex":"Female","x":140.1,"d":3.5},{"year":2023,"sex":"Female","x":145.3,"d":1.5},{"year":2023,"sex":"Female","x":154.6,"d":0.6},
{"year":2023,"sex":"Male","x":66.5,"d":0.3},{"year":2023,"sex":"Male","x":75.8,"d":0.6},{"year":2023,"sex":"Male","x":81.1,"d":5.0},{"year":2023,"sex":"Male","x":86.3,"d":9.4},{"year":2023,"sex":"Male","x":90.3,"d":19.7},{"year":2023,"sex":"Male","x":94.3,"d":37.4},{"year":2023,"sex":"Male","x":98.2,"d":47.7},{"year":2023,"sex":"Male","x":102.2,"d":61.0},{"year":2023,"sex":"Male","x":106.1,"d":80.2},{"year":2023,"sex":"Male","x":110.1,"d":96.4},{"year":2023,"sex":"Male","x":112.7,"d":101.4},{"year":2023,"sex":"Male","x":116.7,"d":99.3},{"year":2023,"sex":"Male","x":121.3,"d":101.7},{"year":2023,"sex":"Male","x":124.6,"d":93.5},{"year":2023,"sex":"Male","x":127.9,"d":72.8},{"year":2023,"sex":"Male","x":131.2,"d":46.3},{"year":2023,"sex":"Male","x":135.2,"d":22.7},{"year":2023,"sex":"Male","x":139.1,"d":12.4},{"year":2023,"sex":"Male","x":144.4,"d":6.5},{"year":2023,"sex":"Male","x":149.7,"d":2.1},{"year":2023,"sex":"Male","x":155.0,"d":0.3}
]
},
"columns":2,
"align":"each",
"bounds":"flush",
"spacing":{"row":0,"column":26},
"concat":[
 {"width":518,"height":32,"view":{"fill":"#d9d9d9","stroke":"#333333"},"data":{"values":[{"label":"Combined (Female + Male)"}]},"mark":{"type":"text","fontSize":20,"color":"#1a1a1a"},"encoding":{"text":{"field":"label","type":"nominal"}}},
 {"hconcat":[
   {"width":254,"height":32,"view":{"fill":"#d9d9d9","stroke":"#333333"},"data":{"values":[{"label":"Female"}]},"mark":{"type":"text","fontSize":20,"color":"#1a1a1a"},"encoding":{"text":{"field":"label","type":"nominal"}}},
   {"width":255,"height":32,"view":{"fill":"#d9d9d9","stroke":"#333333"},"data":{"values":[{"label":"Male"}]},"mark":{"type":"text","fontSize":20,"color":"#1a1a1a"},"encoding":{"text":{"field":"label","type":"nominal"}}}
  ],"spacing":10,"bounds":"flush"},

 {"width":518,"height":187,"layer":[
   {"data":{"name":"bars"},"transform":[{"filter":"datum.year==2014&&datum.sex=='Combined'"}],"mark":{"type":"bar","color":"#808080","fillOpacity":0.65},
    "encoding":{"x":{"field":"lo","type":"quantitative","scale":{"domain":[61.4,162.2],"nice":false,"zero":false},"axis":{"orient":"bottom","values":[80,100,120,140,160],"labels":false,"ticks":false,"title":null}},"x2":{"field":"hi"},
     "y":{"field":"count","type":"quantitative","scale":{"domain":[-2.5,52.5],"nice":false,"zero":false},"axis":{"orient":"left","values":[0,10,20,30,40,50],"title":null}},"y2":{"datum":0}}},
   {"data":{"name":"dens"},"transform":[{"filter":"datum.year==2014&&datum.sex=='Combined'"}],"mark":{"type":"line","color":"#000000","strokeWidth":3,"interpolate":"monotone"},
    "encoding":{"x":{"field":"x","type":"quantitative","axis":{"orient":"bottom","values":[70,90,110,130,150],"labels":false,"ticks":false,"title":null,"gridWidth":0.6}},
     "y":{"field":"d","type":"quantitative","axis":{"orient":"left","values":[5,15,25,35,45],"labels":false,"ticks":false,"title":null,"gridWidth":0.6}}}},
   {"data":{"name":"counts"},"transform":[{"filter":"datum.year==2014&&datum.sex=='Combined'"}],"mark":{"type":"text","align":"left","baseline":"middle","dx":15,"dy":13,"fontSize":16,"color":"#000000"},
    "encoding":{"x":{"datum":61.4,"type":"quantitative","axis":null},"y":{"datum":52.5,"type":"quantitative","axis":null},"text":{"field":"n","type":"nominal"}}}
  ],"resolve":{"axis":{"x":"independent","y":"independent"}}},
 {"hconcat":[
   {"width":254,"height":187,"layer":[
     {"data":{"name":"bars"},"transform":[{"filter":"datum.year==2014&&datum.sex=='Female'"}],"mark":{"type":"bar","fillOpacity":0.55},
      "encoding":{"x":{"field":"lo","type":"quantitative","scale":{"domain":[61.4,162.2],"nice":false,"zero":false},"axis":{"orient":"bottom","values":[80,100,120,140,160],"labels":false,"ticks":false,"title":null}},"x2":{"field":"hi"},
       "y":{"field":"count","type":"quantitative","scale":{"domain":[-2.5,52.5],"nice":false,"zero":false},"axis":{"orient":"left","values":[0,10,20,30,40,50],"labels":false,"ticks":false,"title":null}},"y2":{"datum":0},
       "color":{"field":"sex","type":"nominal","scale":{"domain":["Female","Male"],"range":["#F8766D","#00BFC4"]}}}},
     {"data":{"name":"dens"},"transform":[{"filter":"datum.year==2014&&datum.sex=='Female'"}],"mark":{"type":"line","color":"#F8766D","strokeWidth":3,"interpolate":"monotone"},
      "encoding":{"x":{"field":"x","type":"quantitative","axis":{"orient":"bottom","values":[70,90,110,130,150],"labels":false,"ticks":false,"title":null,"gridWidth":0.6}},
       "y":{"field":"d","type":"quantitative","axis":{"orient":"left","values":[5,15,25,35,45],"labels":false,"ticks":false,"title":null,"gridWidth":0.6}}}},
     {"data":{"name":"counts"},"transform":[{"filter":"datum.year==2014&&datum.sex=='Female'"}],"mark":{"type":"text","align":"left","baseline":"middle","dx":15,"dy":13,"fontSize":16,"color":"#000000"},
      "encoding":{"x":{"datum":61.4,"type":"quantitative","axis":null},"y":{"datum":52.5,"type":"quantitative","axis":null},"text":{"field":"n","type":"nominal"}}}
    ],"resolve":{"axis":{"x":"independent","y":"independent"}}},
   {"hconcat":[
     {"width":255,"height":187,"layer":[
       {"data":{"name":"bars"},"transform":[{"filter":"datum.year==2014&&datum.sex=='Male'"}],"mark":{"type":"bar","fillOpacity":0.55},
        "encoding":{"x":{"field":"lo","type":"quantitative","scale":{"domain":[61.4,162.2],"nice":false,"zero":false},"axis":{"orient":"bottom","values":[80,100,120,140,160],"labels":false,"ticks":false,"title":null}},"x2":{"field":"hi"},
         "y":{"field":"count","type":"quantitative","scale":{"domain":[-2.5,52.5],"nice":false,"zero":false},"axis":{"orient":"left","values":[0,10,20,30,40,50],"labels":false,"ticks":false,"title":null}},"y2":{"datum":0},
         "color":{"field":"sex","type":"nominal","scale":{"domain":["Female","Male"],"range":["#F8766D","#00BFC4"]}}}},
       {"data":{"name":"dens"},"transform":[{"filter":"datum.year==2014&&datum.sex=='Male'"}],"mark":{"type":"line","color":"#00BFC4","strokeWidth":3,"interpolate":"monotone"},
        "encoding":{"x":{"field":"x","type":"quantitative","axis":{"orient":"bottom","values":[70,90,110,130,150],"labels":false,"ticks":false,"title":null,"gridWidth":0.6}},
         "y":{"field":"d","type":"quantitative","axis":{"orient":"left","values":[5,15,25,35,45],"labels":false,"ticks":false,"title":null,"gridWidth":0.6}}}},
       {"data":{"name":"counts"},"transform":[{"filter":"datum.year==2014&&datum.sex=='Male'"}],"mark":{"type":"text","align":"left","baseline":"middle","dx":15,"dy":13,"fontSize":16,"color":"#000000"},
        "encoding":{"x":{"datum":61.4,"type":"quantitative","axis":null},"y":{"datum":52.5,"type":"quantitative","axis":null},"text":{"field":"n","type":"nominal"}}}
      ],"resolve":{"axis":{"x":"independent","y":"independent"}}},
     {"width":26,"height":187,"view":{"fill":"#d9d9d9","stroke":"#333333"},"data":{"values":[{"label":"2014"}]},"mark":{"type":"text","fontSize":20,"color":"#1a1a1a","angle":90},"encoding":{"text":{"field":"label","type":"nominal"}}}
    ],"spacing":2,"bounds":"flush"}
  ],"spacing":10,"bounds":"flush"},

 {"width":518,"height":9,"view":{"stroke":null,"fill":null},"data":{"values":[]},"mark":"text","encoding":{"text":{"value":""}}},
 {"width":1,"height":9,"view":{"stroke":null,"fill":null},"data":{"values":[]},"mark":"text","encoding":{"text":{"value":""}}},

 {"width":518,"height":187,"layer":[
   {"data":{"name":"bars"},"transform":[{"filter":"datum.year==2015&&datum.sex=='Combined'"}],"mark":{"type":"bar","color":"#808080","fillOpacity":0.65},
    "encoding":{"x":{"field":"lo","type":"quantitative","scale":{"domain":[61.4,162.2],"nice":false,"zero":false},"axis":{"orient":"bottom","values":[80,100,120,140,160],"labels":false,"ticks":false,"title":null}},"x2":{"field":"hi"},
     "y":{"field":"count","type":"quantitative","scale":{"domain":[-1.25,26.25],"nice":false,"zero":false},"axis":{"orient":"left","values":[0,5,10,15,20,25],"title":"Frequency","titleX":-59,"titleY":191.5,"titleAngle":270,"titleAlign":"center","titleBaseline":"middle"}},"y2":{"datum":0}}},
   {"data":{"name":"dens"},"transform":[{"filter":"datum.year==2015&&datum.sex=='Combined'"}],"mark":{"type":"line","color":"#000000","strokeWidth":3,"interpolate":"monotone"},
    "encoding":{"x":{"field":"x","type":"quantitative","axis":{"orient":"bottom","values":[70,90,110,130,150],"labels":false,"ticks":false,"title":null,"gridWidth":0.6}},
     "y":{"field":"d","type":"quantitative","axis":{"orient":"left","values":[2.5,7.5,12.5,17.5,22.5],"labels":false,"ticks":false,"title":null,"gridWidth":0.6}}}},
   {"data":{"name":"counts"},"transform":[{"filter":"datum.year==2015&&datum.sex=='Combined'"}],"mark":{"type":"text","align":"left","baseline":"middle","dx":15,"dy":13,"fontSize":16,"color":"#000000"},
    "encoding":{"x":{"datum":61.4,"type":"quantitative","axis":null},"y":{"datum":26.25,"type":"quantitative","axis":null},"text":{"field":"n","type":"nominal"}}}
  ],"resolve":{"axis":{"x":"independent","y":"independent"}}},
 {"hconcat":[
   {"width":254,"height":187,"layer":[
     {"data":{"name":"bars"},"transform":[{"filter":"datum.year==2015&&datum.sex=='Female'"}],"mark":{"type":"bar","fillOpacity":0.55},
      "encoding":{"x":{"field":"lo","type":"quantitative","scale":{"domain":[61.4,162.2],"nice":false,"zero":false},"axis":{"orient":"bottom","values":[80,100,120,140,160],"labels":false,"ticks":false,"title":null}},"x2":{"field":"hi"},
       "y":{"field":"count","type":"quantitative","scale":{"domain":[-1.25,26.25],"nice":false,"zero":false},"axis":{"orient":"left","values":[0,5,10,15,20,25],"labels":false,"ticks":false,"title":null}},"y2":{"datum":0},
       "color":{"field":"sex","type":"nominal","scale":{"domain":["Female","Male"],"range":["#F8766D","#00BFC4"]}}}},
     {"data":{"name":"dens"},"transform":[{"filter":"datum.year==2015&&datum.sex=='Female'"}],"mark":{"type":"line","color":"#F8766D","strokeWidth":3,"interpolate":"monotone"},
      "encoding":{"x":{"field":"x","type":"quantitative","axis":{"orient":"bottom","values":[70,90,110,130,150],"labels":false,"ticks":false,"title":null,"gridWidth":0.6}},
       "y":{"field":"d","type":"quantitative","axis":{"orient":"left","values":[2.5,7.5,12.5,17.5,22.5],"labels":false,"ticks":false,"title":null,"gridWidth":0.6}}}},
     {"data":{"name":"counts"},"transform":[{"filter":"datum.year==2015&&datum.sex=='Female'"}],"mark":{"type":"text","align":"left","baseline":"middle","dx":15,"dy":13,"fontSize":16,"color":"#000000"},
      "encoding":{"x":{"datum":61.4,"type":"quantitative","axis":null},"y":{"datum":26.25,"type":"quantitative","axis":null},"text":{"field":"n","type":"nominal"}}}
    ],"resolve":{"axis":{"x":"independent","y":"independent"}}},
   {"hconcat":[
     {"width":255,"height":187,"layer":[
       {"data":{"name":"bars"},"transform":[{"filter":"datum.year==2015&&datum.sex=='Male'"}],"mark":{"type":"bar","fillOpacity":0.55},
        "encoding":{"x":{"field":"lo","type":"quantitative","scale":{"domain":[61.4,162.2],"nice":false,"zero":false},"axis":{"orient":"bottom","values":[80,100,120,140,160],"labels":false,"ticks":false,"title":null}},"x2":{"field":"hi"},
         "y":{"field":"count","type":"quantitative","scale":{"domain":[-1.25,26.25],"nice":false,"zero":false},"axis":{"orient":"left","values":[0,5,10,15,20,25],"labels":false,"ticks":false,"title":null}},"y2":{"datum":0},
         "color":{"field":"sex","type":"nominal","scale":{"domain":["Female","Male"],"range":["#F8766D","#00BFC4"]}}}},
       {"data":{"name":"dens"},"transform":[{"filter":"datum.year==2015&&datum.sex=='Male'"}],"mark":{"type":"line","color":"#00BFC4","strokeWidth":3,"interpolate":"monotone"},
        "encoding":{"x":{"field":"x","type":"quantitative","axis":{"orient":"bottom","values":[70,90,110,130,150],"labels":false,"ticks":false,"title":null,"gridWidth":0.6}},
         "y":{"field":"d","type":"quantitative","axis":{"orient":"left","values":[2.5,7.5,12.5,17.5,22.5],"labels":false,"ticks":false,"title":null,"gridWidth":0.6}}}},
       {"data":{"name":"counts"},"transform":[{"filter":"datum.year==2015&&datum.sex=='Male'"}],"mark":{"type":"text","align":"left","baseline":"middle","dx":15,"dy":13,"fontSize":16,"color":"#000000"},
        "encoding":{"x":{"datum":61.4,"type":"quantitative","axis":null},"y":{"datum":26.25,"type":"quantitative","axis":null},"text":{"field":"n","type":"nominal"}}}
      ],"resolve":{"axis":{"x":"independent","y":"independent"}}},
     {"width":26,"height":187,"view":{"fill":"#d9d9d9","stroke":"#333333"},"data":{"values":[{"label":"2015"}]},"mark":{"type":"text","fontSize":20,"color":"#1a1a1a","angle":90},"encoding":{"text":{"field":"label","type":"nominal"}}}
    ],"spacing":2,"bounds":"flush"}
  ],"spacing":10,"bounds":"flush"},

 {"width":518,"height":9,"view":{"stroke":null,"fill":null},"data":{"values":[]},"mark":"text","encoding":{"text":{"value":""}}},
 {"width":1,"height":9,"view":{"stroke":null,"fill":null},"data":{"values":[]},"mark":"text","encoding":{"text":{"value":""}}},

 {"width":518,"height":187,"layer":[
   {"data":{"name":"bars"},"transform":[{"filter":"datum.year==2022&&datum.sex=='Combined'"}],"mark":{"type":"bar","color":"#808080","fillOpacity":0.65},
    "encoding":{"x":{"field":"lo","type":"quantitative","scale":{"domain":[61.4,162.2],"nice":false,"zero":false},"axis":{"orient":"bottom","values":[80,100,120,140,160],"labels":false,"ticks":false,"title":null}},"x2":{"field":"hi"},
     "y":{"field":"count","type":"quantitative","scale":{"domain":[-3.5,73.5],"nice":false,"zero":false},"axis":{"orient":"left","values":[0,20,40,60],"title":null}},"y2":{"datum":0}}},
   {"data":{"name":"dens"},"transform":[{"filter":"datum.year==2022&&datum.sex=='Combined'"}],"mark":{"type":"line","color":"#000000","strokeWidth":3,"interpolate":"monotone"},
    "encoding":{"x":{"field":"x","type":"quantitative","axis":{"orient":"bottom","values":[70,90,110,130,150],"labels":false,"ticks":false,"title":null,"gridWidth":0.6}},
     "y":{"field":"d","type":"quantitative","axis":{"orient":"left","values":[10,30,50,70],"labels":false,"ticks":false,"title":null,"gridWidth":0.6}}}},
   {"data":{"name":"counts"},"transform":[{"filter":"datum.year==2022&&datum.sex=='Combined'"}],"mark":{"type":"text","align":"left","baseline":"middle","dx":15,"dy":13,"fontSize":16,"color":"#000000"},
    "encoding":{"x":{"datum":61.4,"type":"quantitative","axis":null},"y":{"datum":73.5,"type":"quantitative","axis":null},"text":{"field":"n","type":"nominal"}}}
  ],"resolve":{"axis":{"x":"independent","y":"independent"}}},
 {"hconcat":[
   {"width":254,"height":187,"layer":[
     {"data":{"name":"bars"},"transform":[{"filter":"datum.year==2022&&datum.sex=='Female'"}],"mark":{"type":"bar","fillOpacity":0.55},
      "encoding":{"x":{"field":"lo","type":"quantitative","scale":{"domain":[61.4,162.2],"nice":false,"zero":false},"axis":{"orient":"bottom","values":[80,100,120,140,160],"labels":false,"ticks":false,"title":null}},"x2":{"field":"hi"},
       "y":{"field":"count","type":"quantitative","scale":{"domain":[-3.5,73.5],"nice":false,"zero":false},"axis":{"orient":"left","values":[0,20,40,60],"labels":false,"ticks":false,"title":null}},"y2":{"datum":0},
       "color":{"field":"sex","type":"nominal","scale":{"domain":["Female","Male"],"range":["#F8766D","#00BFC4"]}}}},
     {"data":{"name":"dens"},"transform":[{"filter":"datum.year==2022&&datum.sex=='Female'"}],"mark":{"type":"line","color":"#F8766D","strokeWidth":3,"interpolate":"monotone"},
      "encoding":{"x":{"field":"x","type":"quantitative","axis":{"orient":"bottom","values":[70,90,110,130,150],"labels":false,"ticks":false,"title":null,"gridWidth":0.6}},
       "y":{"field":"d","type":"quantitative","axis":{"orient":"left","values":[10,30,50,70],"labels":false,"ticks":false,"title":null,"gridWidth":0.6}}}},
     {"data":{"name":"counts"},"transform":[{"filter":"datum.year==2022&&datum.sex=='Female'"}],"mark":{"type":"text","align":"left","baseline":"middle","dx":15,"dy":13,"fontSize":16,"color":"#000000"},
      "encoding":{"x":{"datum":61.4,"type":"quantitative","axis":null},"y":{"datum":73.5,"type":"quantitative","axis":null},"text":{"field":"n","type":"nominal"}}}
    ],"resolve":{"axis":{"x":"independent","y":"independent"}}},
   {"hconcat":[
     {"width":255,"height":187,"layer":[
       {"data":{"name":"bars"},"transform":[{"filter":"datum.year==2022&&datum.sex=='Male'"}],"mark":{"type":"bar","fillOpacity":0.55},
        "encoding":{"x":{"field":"lo","type":"quantitative","scale":{"domain":[61.4,162.2],"nice":false,"zero":false},"axis":{"orient":"bottom","values":[80,100,120,140,160],"labels":false,"ticks":false,"title":null}},"x2":{"field":"hi"},
         "y":{"field":"count","type":"quantitative","scale":{"domain":[-3.5,73.5],"nice":false,"zero":false},"axis":{"orient":"left","values":[0,20,40,60],"labels":false,"ticks":false,"title":null}},"y2":{"datum":0},
         "color":{"field":"sex","type":"nominal","scale":{"domain":["Female","Male"],"range":["#F8766D","#00BFC4"]}}}},
       {"data":{"name":"dens"},"transform":[{"filter":"datum.year==2022&&datum.sex=='Male'"}],"mark":{"type":"line","color":"#00BFC4","strokeWidth":3,"interpolate":"monotone"},
        "encoding":{"x":{"field":"x","type":"quantitative","axis":{"orient":"bottom","values":[70,90,110,130,150],"labels":false,"ticks":false,"title":null,"gridWidth":0.6}},
         "y":{"field":"d","type":"quantitative","axis":{"orient":"left","values":[10,30,50,70],"labels":false,"ticks":false,"title":null,"gridWidth":0.6}}}},
       {"data":{"name":"counts"},"transform":[{"filter":"datum.year==2022&&datum.sex=='Male'"}],"mark":{"type":"text","align":"left","baseline":"middle","dx":15,"dy":13,"fontSize":16,"color":"#000000"},
        "encoding":{"x":{"datum":61.4,"type":"quantitative","axis":null},"y":{"datum":73.5,"type":"quantitative","axis":null},"text":{"field":"n","type":"nominal"}}}
      ],"resolve":{"axis":{"x":"independent","y":"independent"}}},
     {"width":26,"height":187,"view":{"fill":"#d9d9d9","stroke":"#333333"},"data":{"values":[{"label":"2022"}]},"mark":{"type":"text","fontSize":20,"color":"#1a1a1a","angle":90},"encoding":{"text":{"field":"label","type":"nominal"}}}
    ],"spacing":2,"bounds":"flush"}
  ],"spacing":10,"bounds":"flush"},

 {"width":518,"height":9,"view":{"stroke":null,"fill":null},"data":{"values":[]},"mark":"text","encoding":{"text":{"value":""}}},
 {"width":1,"height":9,"view":{"stroke":null,"fill":null},"data":{"values":[]},"mark":"text","encoding":{"text":{"value":""}}},

 {"width":518,"height":187,"layer":[
   {"data":{"name":"bars"},"transform":[{"filter":"datum.year==2023&&datum.sex=='Combined'"}],"mark":{"type":"bar","color":"#808080","fillOpacity":0.65},
    "encoding":{"x":{"field":"lo","type":"quantitative","scale":{"domain":[61.4,162.2],"nice":false,"zero":false},"axis":{"orient":"bottom","values":[80,100,120,140,160],"title":"Carapace length (mm)"}},"x2":{"field":"hi"},
     "y":{"field":"count","type":"quantitative","scale":{"domain":[-7.5,157.5],"nice":false,"zero":false},"axis":{"orient":"left","values":[0,50,100,150],"title":null}},"y2":{"datum":0}}},
   {"data":{"name":"dens"},"transform":[{"filter":"datum.year==2023&&datum.sex=='Combined'"}],"mark":{"type":"line","color":"#000000","strokeWidth":3,"interpolate":"monotone"},
    "encoding":{"x":{"field":"x","type":"quantitative","axis":{"orient":"bottom","values":[70,90,110,130,150],"labels":false,"ticks":false,"title":null,"gridWidth":0.6}},
     "y":{"field":"d","type":"quantitative","axis":{"orient":"left","values":[25,75,125],"labels":false,"ticks":false,"title":null,"gridWidth":0.6}}}},
   {"data":{"name":"counts"},"transform":[{"filter":"datum.year==2023&&datum.sex=='Combined'"}],"mark":{"type":"text","align":"left","baseline":"middle","dx":15,"dy":13,"fontSize":16,"color":"#000000"},
    "encoding":{"x":{"datum":61.4,"type":"quantitative","axis":null},"y":{"datum":157.5,"type":"quantitative","axis":null},"text":{"field":"n","type":"nominal"}}}
  ],"resolve":{"axis":{"x":"independent","y":"independent"}}},
 {"hconcat":[
   {"width":254,"height":187,"layer":[
     {"data":{"name":"bars"},"transform":[{"filter":"datum.year==2023&&datum.sex=='Female'"}],"mark":{"type":"bar","fillOpacity":0.55},
      "encoding":{"x":{"field":"lo","type":"quantitative","scale":{"domain":[61.4,162.2],"nice":false,"zero":false},"axis":{"orient":"bottom","values":[80,100,120,140,160],"title":"Carapace length (mm)","titleX":259.5,"titleAlign":"center"}},"x2":{"field":"hi"},
       "y":{"field":"count","type":"quantitative","scale":{"domain":[-7.5,157.5],"nice":false,"zero":false},"axis":{"orient":"left","values":[0,50,100,150],"labels":false,"ticks":false,"title":null}},"y2":{"datum":0},
       "color":{"field":"sex","type":"nominal","scale":{"domain":["Female","Male"],"range":["#F8766D","#00BFC4"]}}}},
     {"data":{"name":"dens"},"transform":[{"filter":"datum.year==2023&&datum.sex=='Female'"}],"mark":{"type":"line","color":"#F8766D","strokeWidth":3,"interpolate":"monotone"},
      "encoding":{"x":{"field":"x","type":"quantitative","axis":{"orient":"bottom","values":[70,90,110,130,150],"labels":false,"ticks":false,"title":null,"gridWidth":0.6}},
       "y":{"field":"d","type":"quantitative","axis":{"orient":"left","values":[25,75,125],"labels":false,"ticks":false,"title":null,"gridWidth":0.6}}}},
     {"data":{"name":"counts"},"transform":[{"filter":"datum.year==2023&&datum.sex=='Female'"}],"mark":{"type":"text","align":"left","baseline":"middle","dx":15,"dy":13,"fontSize":16,"color":"#000000"},
      "encoding":{"x":{"datum":61.4,"type":"quantitative","axis":null},"y":{"datum":157.5,"type":"quantitative","axis":null},"text":{"field":"n","type":"nominal"}}}
    ],"resolve":{"axis":{"x":"independent","y":"independent"}}},
   {"hconcat":[
     {"width":255,"height":187,"layer":[
       {"data":{"name":"bars"},"transform":[{"filter":"datum.year==2023&&datum.sex=='Male'"}],"mark":{"type":"bar","fillOpacity":0.55},
        "encoding":{"x":{"field":"lo","type":"quantitative","scale":{"domain":[61.4,162.2],"nice":false,"zero":false},"axis":{"orient":"bottom","values":[80,100,120,140,160],"title":null}},"x2":{"field":"hi"},
         "y":{"field":"count","type":"quantitative","scale":{"domain":[-7.5,157.5],"nice":false,"zero":false},"axis":{"orient":"left","values":[0,50,100,150],"labels":false,"ticks":false,"title":null}},"y2":{"datum":0},
         "color":{"field":"sex","type":"nominal","scale":{"domain":["Female","Male"],"range":["#F8766D","#00BFC4"]}}}},
       {"data":{"name":"dens"},"transform":[{"filter":"datum.year==2023&&datum.sex=='Male'"}],"mark":{"type":"line","color":"#00BFC4","strokeWidth":3,"interpolate":"monotone"},
        "encoding":{"x":{"field":"x","type":"quantitative","axis":{"orient":"bottom","values":[70,90,110,130,150],"labels":false,"ticks":false,"title":null,"gridWidth":0.6}},
         "y":{"field":"d","type":"quantitative","axis":{"orient":"left","values":[25,75,125],"labels":false,"ticks":false,"title":null,"gridWidth":0.6}}}},
       {"data":{"name":"counts"},"transform":[{"filter":"datum.year==2023&&datum.sex=='Male'"}],"mark":{"type":"text","align":"left","baseline":"middle","dx":15,"dy":13,"fontSize":16,"color":"#000000"},
        "encoding":{"x":{"datum":61.4,"type":"quantitative","axis":null},"y":{"datum":157.5,"type":"quantitative","axis":null},"text":{"field":"n","type":"nominal"}}}
      ],"resolve":{"axis":{"x":"independent","y":"independent"}}},
     {"width":26,"height":187,"view":{"fill":"#d9d9d9","stroke":"#333333"},"data":{"values":[{"label":"2023"}]},"mark":{"type":"text","fontSize":20,"color":"#1a1a1a","angle":90},"encoding":{"text":{"field":"label","type":"nominal"}}}
    ],"spacing":2,"bounds":"flush"}
  ],"spacing":10,"bounds":"flush"}
]
}
